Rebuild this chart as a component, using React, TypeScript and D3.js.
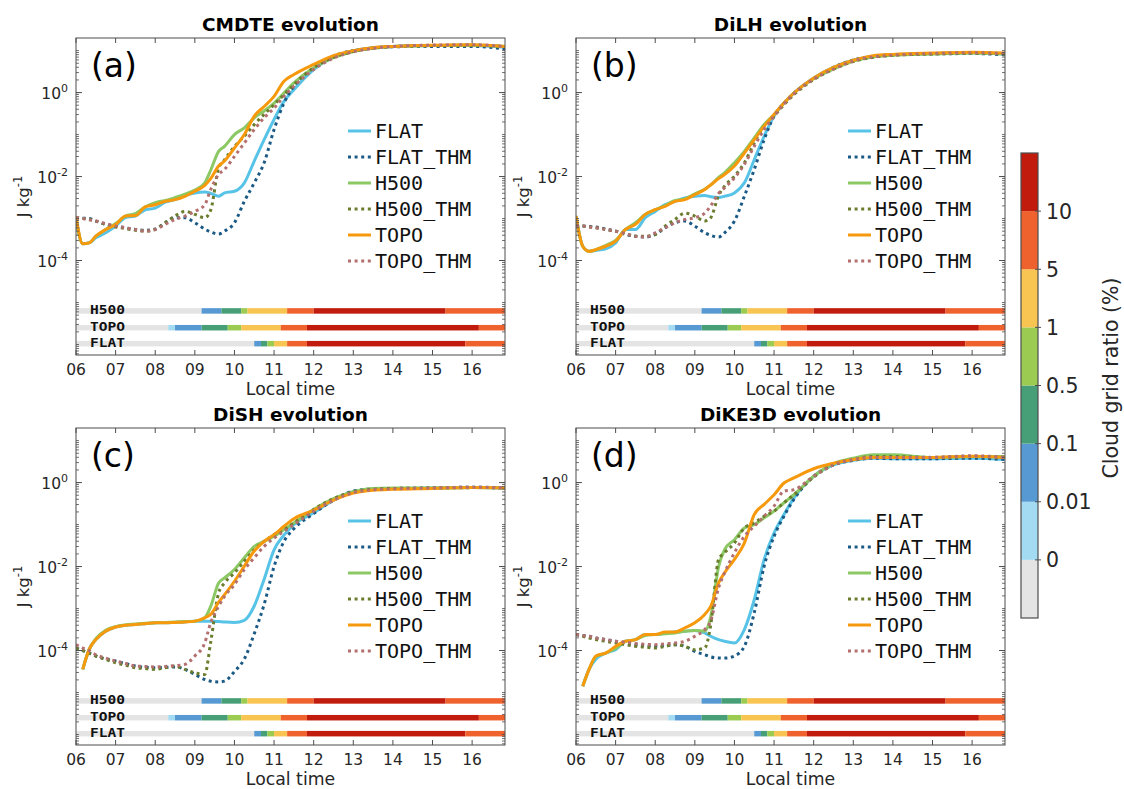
import React from 'react';
import * as d3 from 'd3';

// ---------- data (log10 of J kg^-1) ----------
const TIMES = [6, 6.17, 6.33, 6.5, 6.75, 7, 7.25, 7.5, 7.75, 8, 8.25, 8.5, 8.75, 9, 9.25, 9.4, 9.6, 9.75, 10, 10.25, 10.5, 10.75, 11, 11.25, 11.5, 12, 12.5, 13, 13.5, 14, 15, 16, 16.83];

const SERIES_NAMES = ['FLAT', 'FLAT_THM', 'H500', 'H500_THM', 'TOPO', 'TOPO_THM'];
const SERIES_COLORS = ['#56c3e7', '#1c5a86', '#8cc864', '#6a7d2c', '#f6990d', '#b46f6f'];
const SERIES_DOTTED = [false, true, false, true, false, true];

const A_FLAT = [-3.0, -3.6, -3.58, -3.46, -3.34, -3.18, -2.98, -2.94, -2.79, -2.75, -2.61, -2.55, -2.45, -2.39, -2.37, -2.4, -2.47, -2.39, -2.35, -2.15, -1.63, -1.12, -0.64, -0.21, 0.07, 0.55, 0.85, 1.0, 1.07, 1.1, 1.12, 1.12, 1.08];
const A_FLAT_THM = [-2.98, -2.99, -3.0, -3.06, -3.14, -3.18, -3.22, -3.26, -3.28, -3.25, -3.1, -2.98, -2.98, -3.1, -3.25, -3.32, -3.37, -3.3, -3.1, -2.59, -2.15, -1.67, -0.88, -0.25, 0.15, 0.59, 0.87, 1.0, 1.06, 1.09, 1.1, 1.1, 1.04];
const A_H500 = [-3.0, -3.6, -3.58, -3.42, -3.26, -3.12, -2.94, -2.88, -2.72, -2.62, -2.57, -2.5, -2.42, -2.32, -2.15, -1.85, -1.4, -1.28, -1.0, -0.84, -0.6, -0.44, -0.25, -0.01, 0.23, 0.59, 0.83, 0.98, 1.06, 1.1, 1.12, 1.13, 1.1];
const A_H500_THM = [-2.98, -3.0, -3.02, -3.06, -3.14, -3.2, -3.24, -3.28, -3.3, -3.26, -3.1, -2.94, -2.83, -2.9, -2.98, -2.8, -1.8, -1.6, -1.28, -1.04, -0.76, -0.52, -0.29, -0.05, 0.19, 0.59, 0.84, 0.98, 1.06, 1.1, 1.12, 1.13, 1.1];
const A_TOPO = [-2.94, -3.6, -3.58, -3.42, -3.26, -3.14, -2.94, -2.93, -2.72, -2.67, -2.59, -2.55, -2.47, -2.35, -2.21, -2.05, -1.75, -1.63, -1.32, -1.0, -0.56, -0.33, -0.09, 0.27, 0.43, 0.67, 0.88, 1.0, 1.07, 1.1, 1.13, 1.14, 1.1];
const A_TOPO_THM = [-2.98, -3.0, -3.03, -3.06, -3.12, -3.18, -3.22, -3.26, -3.3, -3.26, -3.14, -3.02, -2.94, -2.83, -2.67, -2.31, -1.95, -1.83, -1.52, -1.2, -0.88, -0.6, -0.37, -0.09, 0.15, 0.55, 0.82, 0.97, 1.05, 1.1, 1.13, 1.14, 1.1];

const B_FLAT = [-2.94, -3.66, -3.78, -3.76, -3.72, -3.58, -3.26, -3.26, -2.98, -2.83, -2.67, -2.59, -2.51, -2.47, -2.45, -2.48, -2.5, -2.47, -2.39, -2.15, -1.6, -1.04, -0.56, -0.25, -0.01, 0.35, 0.6, 0.77, 0.86, 0.9, 0.93, 0.95, 0.92];
const B_FLAT_THM = [-3.18, -3.18, -3.19, -3.2, -3.25, -3.3, -3.38, -3.42, -3.44, -3.38, -3.22, -3.1, -3.06, -3.18, -3.34, -3.4, -3.44, -3.34, -3.06, -2.47, -1.83, -1.12, -0.56, -0.25, -0.01, 0.33, 0.6, 0.78, 0.86, 0.9, 0.92, 0.93, 0.9];
const B_H500 = [-2.94, -3.66, -3.78, -3.74, -3.64, -3.52, -3.26, -3.1, -2.9, -2.79, -2.69, -2.57, -2.53, -2.41, -2.3, -2.2, -2.02, -1.91, -1.67, -1.4, -1.08, -0.76, -0.52, -0.25, -0.01, 0.33, 0.56, 0.75, 0.85, 0.89, 0.92, 0.94, 0.92];
const B_H500_THM = [-3.18, -3.18, -3.2, -3.22, -3.26, -3.3, -3.36, -3.42, -3.42, -3.38, -3.18, -3.02, -2.87, -2.94, -3.06, -2.98, -2.45, -2.23, -1.99, -1.67, -1.2, -0.8, -0.56, -0.29, -0.05, 0.31, 0.56, 0.74, 0.84, 0.89, 0.92, 0.94, 0.92];
const B_TOPO = [-2.94, -3.66, -3.78, -3.74, -3.66, -3.54, -3.26, -3.14, -2.9, -2.79, -2.71, -2.59, -2.55, -2.43, -2.31, -2.2, -2.05, -1.95, -1.75, -1.44, -1.12, -0.8, -0.52, -0.25, -0.01, 0.35, 0.6, 0.77, 0.88, 0.91, 0.94, 0.96, 0.94];
const B_TOPO_THM = [-3.18, -3.18, -3.2, -3.22, -3.26, -3.3, -3.36, -3.42, -3.44, -3.34, -3.22, -3.1, -3.02, -2.98, -2.87, -2.7, -2.4, -2.27, -2.03, -1.71, -1.28, -0.88, -0.56, -0.27, -0.03, 0.32, 0.56, 0.75, 0.85, 0.89, 0.93, 0.95, 0.93];

const C_FLAT = [null, -4.45, -3.98, -3.74, -3.54, -3.44, -3.4, -3.38, -3.36, -3.34, -3.34, -3.33, -3.32, -3.3, -3.3, -3.3, -3.31, -3.32, -3.33, -3.28, -2.94, -2.3, -1.6, -1.25, -1.0, -0.72, -0.42, -0.22, -0.16, -0.14, -0.13, -0.12, -0.13];
const C_FLAT_THM = [-3.94, -4.0, -4.06, -4.13, -4.2, -4.25, -4.31, -4.37, -4.4, -4.41, -4.4, -4.39, -4.45, -4.57, -4.69, -4.73, -4.75, -4.73, -4.5, -4.2, -3.6, -2.9, -2.0, -1.4, -1.1, -0.74, -0.42, -0.2, -0.15, -0.14, -0.13, -0.11, -0.14];
const C_H500 = [null, -4.45, -3.98, -3.72, -3.52, -3.43, -3.39, -3.37, -3.35, -3.34, -3.33, -3.32, -3.31, -3.3, -3.22, -2.95, -2.39, -2.27, -2.07, -1.79, -1.52, -1.4, -1.28, -1.12, -0.96, -0.64, -0.38, -0.22, -0.14, -0.13, -0.13, -0.12, -0.13];
const C_H500_THM = [-3.94, -4.0, -4.06, -4.13, -4.21, -4.29, -4.35, -4.41, -4.43, -4.45, -4.41, -4.37, -4.45, -4.53, -4.57, -3.8, -2.63, -2.39, -2.15, -1.87, -1.6, -1.4, -1.24, -1.12, -0.96, -0.64, -0.38, -0.22, -0.16, -0.14, -0.13, -0.12, -0.12];
const C_TOPO = [null, -4.45, -3.98, -3.74, -3.54, -3.44, -3.4, -3.38, -3.36, -3.34, -3.34, -3.33, -3.32, -3.3, -3.22, -3.14, -2.85, -2.67, -2.35, -1.99, -1.63, -1.4, -1.24, -1.04, -0.86, -0.66, -0.42, -0.25, -0.18, -0.16, -0.14, -0.12, -0.13];
const C_TOPO_THM = [-3.86, -3.94, -4.0, -4.1, -4.18, -4.25, -4.31, -4.37, -4.38, -4.39, -4.38, -4.36, -4.33, -4.13, -3.82, -3.34, -2.95, -2.71, -2.43, -2.07, -1.79, -1.52, -1.32, -1.16, -1.0, -0.68, -0.42, -0.24, -0.17, -0.15, -0.13, -0.11, -0.12];

const D_FLAT = [null, -4.85, -4.45, -4.21, -4.06, -3.98, -3.78, -3.74, -3.62, -3.62, -3.58, -3.56, -3.54, -3.52, -3.58, -3.66, -3.74, -3.78, -3.82, -3.5, -2.79, -1.83, -1.2, -0.76, -0.37, 0.15, 0.42, 0.53, 0.58, 0.57, 0.57, 0.58, 0.55];
const D_FLAT_THM = [-3.62, -3.64, -3.66, -3.7, -3.74, -3.78, -3.82, -3.86, -3.88, -3.9, -3.88, -3.86, -3.9, -4.02, -4.1, -4.15, -4.18, -4.18, -4.13, -3.9, -3.1, -1.99, -1.28, -0.8, -0.4, 0.15, 0.42, 0.53, 0.58, 0.57, 0.57, 0.58, 0.55];
const D_H500 = [null, -4.85, -4.45, -4.15, -4.06, -3.95, -3.78, -3.74, -3.64, -3.62, -3.6, -3.58, -3.54, -3.52, -3.54, -3.2, -2.0, -1.6, -1.36, -1.08, -1.0, -0.84, -0.68, -0.48, -0.29, 0.15, 0.45, 0.58, 0.66, 0.66, 0.6, 0.62, 0.62];
const D_H500_THM = [-3.62, -3.66, -3.7, -3.74, -3.78, -3.82, -3.86, -3.9, -3.92, -3.94, -3.9, -3.86, -3.9, -3.98, -3.94, -3.4, -1.83, -1.67, -1.44, -1.08, -0.96, -0.8, -0.68, -0.48, -0.29, 0.13, 0.43, 0.55, 0.62, 0.62, 0.6, 0.62, 0.6];
const D_TOPO = [null, -4.85, -4.45, -4.13, -4.06, -3.9, -3.78, -3.74, -3.62, -3.62, -3.56, -3.56, -3.46, -3.34, -3.14, -2.95, -2.39, -2.15, -1.83, -1.44, -0.76, -0.52, -0.29, -0.01, 0.11, 0.33, 0.46, 0.55, 0.6, 0.6, 0.6, 0.63, 0.6];
const D_TOPO_THM = [-3.62, -3.64, -3.66, -3.7, -3.74, -3.78, -3.8, -3.83, -3.85, -3.86, -3.84, -3.82, -3.78, -3.66, -3.5, -3.3, -2.5, -2.15, -1.67, -1.28, -1.04, -0.8, -0.56, -0.2, -0.17, 0.15, 0.42, 0.55, 0.6, 0.6, 0.6, 0.64, 0.6];

const PANEL_TITLES = ['CMDTE evolution', 'DiLH evolution', 'DiSH evolution', 'DiKE3D evolution'];
const PANEL_TAGS = ['(a)', '(b)', '(c)', '(d)'];

const X_TICKS = [6, 7, 8, 9, 10, 11, 12, 13, 14, 15, 16];
const Y_LABEL_EXPONENTS = [-4, -2, 0];

// cloud grid ratio bars
const CLOUD_ROWS = ['H500', 'TOPO', 'FLAT'];
const CLOUD_ROW_LOG_Y = [-5.2, -5.6, -5.98];
const H500_CLOUD_BREAKS = [6, 9.17, 9.67, 10.17, 10.33, 11.33, 12.0, 15.33, 16.83];
const H500_CLOUD_LEVELS = [0, 2, 3, 4, 5, 6, 7, 6];
const TOPO_CLOUD_BREAKS = [6, 8.33, 8.5, 9.17, 9.83, 10.17, 11.17, 11.83, 16.17, 16.83];
const TOPO_CLOUD_LEVELS = [0, 1, 2, 3, 4, 5, 6, 7, 6];
const FLAT_CLOUD_BREAKS = [6, 10.5, 10.67, 10.83, 11.0, 11.33, 11.83, 15.83, 16.83];
const FLAT_CLOUD_LEVELS = [0, 2, 3, 4, 5, 6, 7, 6];

const CLOUD_LEVEL_COLORS = ['#e4e4e4', '#a3dbf3', '#5799d2', '#479f77', '#9ccb51', '#f8c452', '#ef622e', '#c01b0d'];
const CLOUD_TICK_LABELS = ['0', '0.01', '0.1', '0.5', '1', '5', '10'];

// ---------- layout ----------
const W = 1124, H = 789;
const PW = 429, PH = 317;
const PANEL_ORIGINS = [[76, 38], [576, 38], [76, 428], [576, 428]];
const SANS = 'DejaVu Sans, sans-serif';
const MONO = 'DejaVu Sans Mono, monospace';
const AXIS_COLOR = '#4d4d4d';

const PANEL_DATA = [
  [A_FLAT, A_FLAT_THM, A_H500, A_H500_THM, A_TOPO, A_TOPO_THM],
  [B_FLAT, B_FLAT_THM, B_H500, B_H500_THM, B_TOPO, B_TOPO_THM],
  [C_FLAT, C_FLAT_THM, C_H500, C_H500_THM, C_TOPO, C_TOPO_THM],
  [D_FLAT, D_FLAT_THM, D_H500, D_H500_THM, D_TOPO, D_TOPO_THM],
];
const CLOUD_DATA = [
  [H500_CLOUD_BREAKS, H500_CLOUD_LEVELS],
  [TOPO_CLOUD_BREAKS, TOPO_CLOUD_LEVELS],
  [FLAT_CLOUD_BREAKS, FLAT_CLOUD_LEVELS],
];

function Panel({ idx }: { idx: number }) {
  const [ox, oy] = PANEL_ORIGINS[idx];
  const x = d3.scaleLinear().domain([6, 16.83]).range([0, PW]);
  const y = d3.scaleLog().domain([Math.pow(10, -6.25), Math.pow(10, 1.3)]).range([PH, 0]);
  const line = d3
    .line<[number, number | null]>()
    .defined((d) => d[1] !== null)
    .x((d) => x(d[0]))
    .y((d) => y(Math.pow(10, d[1] as number)))
    .curve(d3.curveMonotoneX);

  const minorTicks: number[] = [];
  for (let e = -7; e <= 1; e++) {
    for (let m = 1; m <= 9; m++) {
      const v = m * Math.pow(10, e);
      if (v >= Math.pow(10, -6.25) && v <= Math.pow(10, 1.3)) minorTicks.push(v);
    }
  }
  const clipId = `clip-${idx}`;
  return (
    <g transform={`translate(${ox},${oy})`}>
      <defs>
        <clipPath id={clipId}>
          <rect x={0} y={0} width={PW} height={PH} />
        </clipPath>
      </defs>
      <rect x={0} y={0} width={PW} height={PH} fill="#fff" />
      {/* cloud bars */}
      {CLOUD_DATA.map(([breaks, levels], r) => {
        const yy = y(Math.pow(10, CLOUD_ROW_LOG_Y[r]));
        return (
          <g key={r}>
            {levels.map((lv, i) => (
              <rect
                key={i}
                x={x(breaks[i])}
                y={yy - 2.75}
                width={x(breaks[i + 1]) - x(breaks[i])}
                height={5.5}
                fill={CLOUD_LEVEL_COLORS[lv]}
              />
            ))}
            <text
              x={14}
              y={yy + 3.5}
              fontFamily={MONO}
              fontWeight="bold"
              fontSize={11.5}
              textLength={35}
              lengthAdjust="spacingAndGlyphs"
              fill="#111"
            >
              {CLOUD_ROWS[r]}
            </text>
          </g>
        );
      })}
      {/* lines */}
      <g clipPath={`url(#${clipId})`}>
        {PANEL_DATA[idx].map((vals, s) => {
          const pts: [number, number | null][] = TIMES.map((t, i) => [t, vals[i]]);
          return (
            <path
              key={s}
              d={line(pts) || ''}
              fill="none"
              stroke={SERIES_COLORS[s]}
              strokeWidth={3}
              strokeDasharray={SERIES_DOTTED[s] ? '3,3.6' : undefined}
              strokeLinejoin="round"
            />
          );
        })}
      </g>
      {/* axes box */}
      <rect x={0} y={0} width={PW} height={PH} fill="none" stroke={AXIS_COLOR} strokeWidth={1} />
      {X_TICKS.map((t) => (
        <g key={t}>
          <line x1={x(t)} x2={x(t)} y1={PH} y2={PH - 5} stroke={AXIS_COLOR} />
          <line x1={x(t)} x2={x(t)} y1={0} y2={5} stroke={AXIS_COLOR} />
          <text x={x(t)} y={PH + 20} textAnchor="middle" fontFamily={SANS} fontSize={15.5} fill="#262626">
            {d3.format('02d')(t)}
          </text>
        </g>
      ))}
      {minorTicks.map((v, i) => (
        <g key={i}>
          <line x1={0} x2={3} y1={y(v)} y2={y(v)} stroke={AXIS_COLOR} strokeWidth={0.8} />
          <line x1={PW} x2={PW - 3} y1={y(v)} y2={y(v)} stroke={AXIS_COLOR} strokeWidth={0.8} />
        </g>
      ))}
      {Y_LABEL_EXPONENTS.map((e) => {
        const yy = y(Math.pow(10, e));
        return (
          <g key={e}>
            <line x1={0} x2={6} y1={yy} y2={yy} stroke={AXIS_COLOR} />
            <line x1={PW} x2={PW - 6} y1={yy} y2={yy} stroke={AXIS_COLOR} />
            <text x={-8} y={yy + 6} textAnchor="end" fontFamily={SANS} fontSize={15.5} fill="#262626">
              10
              <tspan dy={-7} fontSize={11}>{String(e)}</tspan>
            </text>
          </g>
        );
      })}
      {/* labels */}
      <text x={PW / 2} y={-7} textAnchor="middle" fontFamily={SANS} fontWeight="bold" fontSize={18.5} fill="#000">
        {PANEL_TITLES[idx]}
      </text>
      <text x={15} y={39} fontFamily={SANS} fontSize={33} fill="#000">
        {PANEL_TAGS[idx]}
      </text>
      <text x={PW / 2} y={PH + 40} textAnchor="middle" fontFamily={SANS} fontSize={17.3} fill="#262626">
        Local time
      </text>
      <text
        transform={`translate(${-47},${PH / 2}) rotate(-90)`}
        textAnchor="middle"
        fontFamily={SANS}
        fontSize={16.5}
        fill="#262626"
      >
        J kg<tspan dy={-7} fontSize={11.5}>-1</tspan>
      </text>
      {/* legend */}
      {SERIES_NAMES.map((name, s) => {
        const yy = 93 + s * 26;
        return (
          <g key={name}>
            <line
              x1={272}
              x2={295}
              y1={yy}
              y2={yy}
              stroke={SERIES_COLORS[s]}
              strokeWidth={3}
              strokeDasharray={SERIES_DOTTED[s] ? '3,3.6' : undefined}
            />
            <text x={299} y={yy + 7} fontFamily={MONO} fontSize={20} fill="#111">
              {name}
            </text>
          </g>
        );
      })}
    </g>
  );
}

function ColorBar() {
  const x0 = 1021, w = 17, top = 153, bottom = 618;
  const yb = d3.scaleLinear().domain([0, CLOUD_LEVEL_COLORS.length]).range([bottom, top]);
  return (
    <g>
      {CLOUD_LEVEL_COLORS.map((c, i) => (
        <rect key={i} x={x0} y={yb(i + 1)} width={w} height={yb(i) - yb(i + 1)} fill={c} />
      ))}
      <rect x={x0} y={top} width={w} height={bottom - top} fill="none" stroke={AXIS_COLOR} strokeWidth={1.2} />
      {CLOUD_TICK_LABELS.map((lab, i) => (
        <g key={lab}>
          <line x1={x0 + w} x2={x0 + w + 3} y1={yb(i + 1)} y2={yb(i + 1)} stroke={AXIS_COLOR} />
          <line x1={x0 + w} x2={x0 + w - 3} y1={yb(i + 1)} y2={yb(i + 1)} stroke={AXIS_COLOR} />
          <text x={x0 + w + 8} y={yb(i + 1) + 7.5} fontFamily={SANS} fontSize={20.5} fill="#262626">
            {lab}
          </text>
        </g>
      ))}
      <text
        transform={`translate(1118,378) rotate(-90)`}
        textAnchor="middle"
        fontFamily={SANS}
        fontSize={20.5}
        fill="#262626"
      >
        Cloud grid ratio (%)
      </text>
    </g>
  );
}

export default function App() {
  return (
    <svg
      width={W}
      height={H}
      viewBox={`0 0 ${W} ${H}`}
      style={{ position: 'absolute', left: 0, top: 0, background: '#fff' }}
    >
      <rect x={0} y={0} width={W} height={H} fill="#fff" />
      {[0, 1, 2, 3].map((i) => (
        <Panel key={i} idx={i} />
      ))}
      <ColorBar />
    </svg>
  );
}
